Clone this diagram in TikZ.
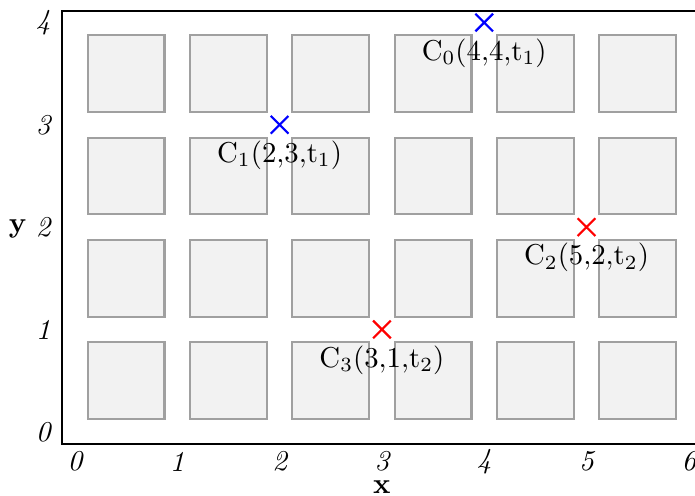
\documentclass[tikz,border=0pt]{standalone}
\usepackage{xcolor}
\usepackage{tikz}
\usetikzlibrary{shapes.misc, positioning}
\definecolor{cellgray}{RGB}{242,242,242}
\definecolor{edgegray}{RGB}{160,160,160}

\begin{document}
\begin{tikzpicture}[x=1.25cm, y=1.25cm,
    cell/.style={rectangle, draw=edgegray, fill=cellgray, line width=0.75pt,
                 minimum size=0.9375cm, inner sep=0pt},
    crossmark/.style={cross out, draw=#1, line width=0.75pt,
                      minimum size=0.19cm, inner sep=0pt},
    tag/.style={inner sep=0pt, font=\normalsize},
    ticklabel/.style={inner sep=0pt, font=\normalsize\itshape},
    axislabel/.style={inner sep=0pt, font=\normalsize\bfseries},
]
\useasboundingbox (-0.733,-0.62) rectangle (6.06,4.22);
% frame
\draw[thick] (6.1,4.11) -- (-0.13,4.11) -- (-0.13,-0.12) -- (6.1,-0.12);
% grid of cells
\foreach \i in {0,...,5}
  \foreach \j in {0,...,3}
    \node[cell] (s-\i-\j) at (\i+0.5,\j+0.5) {};
% ticks
\foreach \k in {0,...,6}
  \node[ticklabel] (xt\k) at (\k,-0.29) {\k};
\foreach \k in {0,...,4}
  \node[ticklabel] (yt\k) at (-0.31,\k) {\k};
\node[axislabel] (xlab) at (3.0,-0.545) {x};
\node[axislabel] (ylab) at (-0.56,1.98) {y};
% points
\node[crossmark=blue] (c0) at (4,4) {};
\node[crossmark=blue] (c1) at (2,3) {};
\node[crossmark=red]  (c2) at (5,2) {};
\node[crossmark=red]  (c3) at (3,1) {};
\node[tag, below=0.8mm of c0] (l0) {$\mathrm{C_0(4{,}4{,}t_1)}$};
\node[tag, below=0.8mm of c1] (l1) {$\mathrm{C_1(2{,}3{,}t_1)}$};
\node[tag, below=0.8mm of c2] (l2) {$\mathrm{C_2(5{,}2{,}t_2)}$};
\node[tag, below=0.8mm of c3] (l3) {$\mathrm{C_3(3{,}1{,}t_2)}$};
\end{tikzpicture}
\end{document}
